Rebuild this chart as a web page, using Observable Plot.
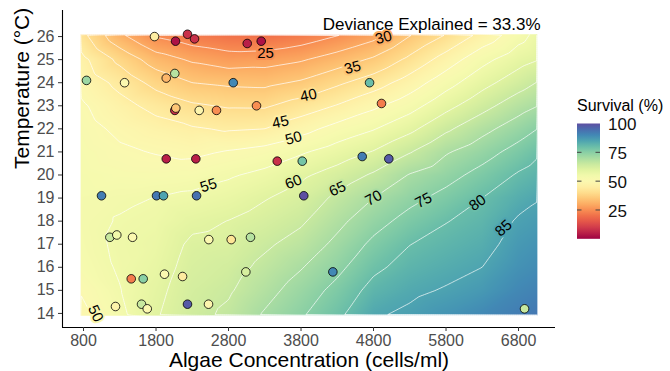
<!DOCTYPE html>
<html>
<head>
<meta charset="utf-8">
<script src="https://cdn.jsdelivr.net/npm/d3@7"></script>
<script src="https://cdn.jsdelivr.net/npm/@observablehq/plot@0.6"></script>
<style>
  body { margin: 0; background: #fff; font-family: "Liberation Sans", Arial, Helvetica, sans-serif; }
  #wrap { position: relative; width: 670px; height: 371px; }
  #wrap svg text { font-family: "Liberation Sans", Arial, Helvetica, sans-serif; }
  g[aria-label$="tick label"] { fill: #4d4d4d; }
  #legend { position: absolute; left: 0; top: 0; pointer-events: none; }
</style>
</head>
<body>
<div id="wrap"></div>
<script>
// ---- fitted survival surface (rows = temperature, columns = algae) ----
const algaeGrid = [760, 1300, 1800, 2300, 2800, 3300, 3800, 4300, 4800, 5300, 5800, 6300, 6800, 7060];
const tempGrid = [26.1, 25, 24, 23, 22, 21, 20, 19, 18, 17, 16, 15, 13.9];
const survivalGrid = [
  [41.7, 30.7, 24.0, 21.5, 20.0, 19.5, 21.5, 24.5, 28.0, 34.5, 40.0, 46.3, 52.8, 56.5],
  [46.7, 38.7, 32.5, 29.3, 27.5, 28.0, 29.5, 32.4, 35.8, 41.2, 47.2, 53.5, 58.1, 59.8],
  [48.6, 43.6, 38.3, 35.0, 34.1, 33.8, 35.7, 39.1, 42.6, 47.3, 53.05, 58.3, 62.8, 65.2],
  [50.8, 46.6, 43.5, 40.75, 39.5, 39.4, 42.2, 45.3, 49.0, 53.0, 58.4, 63.3, 67.9, 69.9],
  [52.0, 48.9, 46.9, 45.5, 44.5, 45.0, 48.2, 51.8, 54.7, 58.75, 64.1, 68.5, 72.6, 75.0],
  [52.8, 50.8, 49.7, 48.9, 50.4, 51.8, 54.4, 57.25, 60.3, 64.7, 69.5, 72.9, 76.9, 79.2],
  [53.3, 52.5, 52.3, 52.7, 54.4, 56.3, 59.1, 62.1, 65.65, 70.3, 73.2, 76.7, 80.55, 82.1],
  [53.6, 54.3, 55.1, 56.1, 57.4, 59.7, 61.9, 66.05, 70.0, 73.6, 76.6, 80.0, 83.3, 84.7],
  [53.6, 55.3, 56.2, 58.8, 60.1, 62.0, 64.3, 68.7, 73.1, 76.8, 79.8, 81.7, 85.6, 86.5],
  [53.3, 55.8, 57.0, 60.9, 61.5, 64.2, 66.9, 71.2, 76.1, 79.9, 81.7, 83.3, 87.0, 88.0],
  [52.5, 55.5, 57.8, 61.8, 63.0, 66.25, 69.7, 73.7, 78.9, 81.9, 83.5, 85.0, 88.3, 89.3],
  [50.3, 54.8, 58.8, 62.6, 64.4, 68.3, 72.2, 76.5, 81.7, 84.0, 85.4, 87.0, 90.0, 91.0],
  [48.5, 53.7, 59.6, 63.4, 66.0, 70.6, 74.5, 79.0, 84.5, 86.0, 88.0, 90.0, 92.0, 93.0]
];
const surfaceAlgaeRange = [760, 7060];
const surfaceTempRange = [13.9, 26.1];
const contourLevels = [25, 30, 35, 40, 45, 50, 55, 60, 65, 70, 75, 80, 85];

// ---- contour labels ----
const labelLevel = [25, 30, 35, 40, 45, 50, 55, 60, 65, 70, 75, 80, 85, 50];
const labelAlgae = [3310, 4938, 4510, 3903, 3517, 3697, 2524, 3697, 4303, 4800, 5490, 6234, 6593, 966];
const labelTemp  = [25.3, 25.96, 24.66, 23.45, 22.3, 21.6, 19.55, 19.7, 19.4, 19.0, 18.9, 18.8, 17.7, 14.0];
const labelAngle = [0, -15, -15, -12, -12, -15, -18, -22, -25, -28, -28, -35, -42, 65];

// ---- observed points ----
const obsAlgae = [1779, 2069, 2234, 2331, 3058, 3251, 841, 1366, 1941, 2059, 2865, 2059, 2073, 2396, 2634, 3186,
  1941, 2349, 3472, 3817, 4745, 4910, 4644, 5011, 1048, 1807, 1903, 2359, 1163, 1259, 1476, 2528, 2837, 3103,
  1458, 1623, 1917, 2166, 3039, 1241, 1600, 1679, 2234, 2524, 3838, 4239, 6883];
const obsTemp = [26.0, 25.8, 26.1, 25.9, 25.7, 25.8, 24.1, 24.0, 24.2, 24.4, 24.0, 22.8, 22.9, 22.8, 22.8, 23.0,
  20.7, 20.7, 20.6, 20.6, 24.0, 23.1, 20.8, 20.7, 19.1, 19.1, 19.1, 19.1, 17.3, 17.4, 17.3, 17.2, 17.2, 17.3,
  15.5, 15.5, 15.7, 15.6, 15.8, 14.3, 14.4, 14.2, 14.4, 14.4, 19.1, 15.8, 14.2];
const obsSurvival = [45, 3, 8, 8, 5, 3, 72, 50, 32, 68, 90, 8, 35, 48, 25, 25,
  5, 5, 8, 78, 80, 22, 92, 98, 92, 93, 85, 94, 65, 55, 50, 50, 42, 68,
  22, 75, 50, 44, 62, 47, 65, 50, 98, 48, 100, 90, 65];

// ---- axes / text ----
const xTicks = [800, 1800, 2800, 3800, 4800, 5800, 6800];
const yTicks = [14, 15, 16, 17, 18, 19, 20, 21, 22, 23, 24, 25, 26];
const xDomain = [510, 7310];
const yDomain = [13.39, 27.13];
const xTitle = "Algae Concentration (cells/ml)";
const yTitle = "Temperature (°C)";
const titleText = "Deviance Explained = 33.3%";
const legendTitle = "Survival (%)";
const legendTicks = [25, 50, 75, 100];

// ---- build tables ----
const surface = [];
tempGrid.forEach((t, i) => algaeGrid.forEach((a, j) => surface.push({algae: a, temp: t, survival: survivalGrid[i][j]})));
const obs = obsAlgae.map((a, i) => ({algae: a, temp: obsTemp[i], survival: obsSurvival[i]}));
const labels = labelLevel.map((v, i) => ({algae: labelAlgae[i], temp: labelTemp[i], level: v, angle: labelAngle[i]}));

const font = '"Liberation Sans", Arial, Helvetica, sans-serif';
const pad = 500, padT = 0.6;

const chart = Plot.plot({
  width: 670, height: 371,
  marginLeft: 62, marginRight: 115, marginTop: 10, marginBottom: 44,
  style: {fontFamily: font, background: "white", overflow: "visible"},
  x: {domain: xDomain},
  y: {domain: yDomain},
  color: {type: "linear", domain: [0, 100], scheme: "spectral"},
  marks: [
    Plot.raster(surface, {
      x: "algae", y: "temp", fill: "survival", interpolate: "barycentric",
      x1: surfaceAlgaeRange[0], x2: surfaceAlgaeRange[1], y1: surfaceTempRange[0], y2: surfaceTempRange[1]
    }),
    Plot.contour(surface, {
      x: "algae", y: "temp", value: "survival", interpolate: "barycentric",
      x1: surfaceAlgaeRange[0] - pad, x2: surfaceAlgaeRange[1] + pad,
      y1: surfaceTempRange[0] - padT, y2: surfaceTempRange[1] + padT,
      thresholds: contourLevels, fill: "none", stroke: "white", strokeOpacity: 0.7, strokeWidth: 1
    }),
    Plot.text(labels, {
      x: "algae", y: "temp", text: d => String(d.level), rotate: "angle",
      fontSize: 15, fill: "black", stroke: "level", strokeWidth: 4
    }),
    Plot.dot(obs, {x: "algae", y: "temp", fill: "survival", stroke: "black", strokeWidth: 0.8, r: 4.3}),
    Plot.ruleX([xDomain[0]], {stroke: "black", strokeWidth: 1.1}),
    Plot.ruleY([yDomain[0]], {stroke: "black", strokeWidth: 1.1}),
    Plot.axisX({ticks: xTicks, tickFormat: d => String(d), tickSize: 4, tickPadding: 3, fontSize: 16, label: null, stroke: "#333"}),
    Plot.axisY({ticks: yTicks, tickFormat: d => String(d), tickSize: 4, tickPadding: 4, fontSize: 16, label: null, stroke: "#333"}),
    Plot.text([xTitle], {text: d => d, frameAnchor: "bottom", dy: 33, fontSize: 21, lineAnchor: "middle", fill: "black"}),
    Plot.text([yTitle], {text: d => d, frameAnchor: "left", dx: -40, rotate: -90, fontSize: 21, lineAnchor: "middle", fill: "black"}),
    Plot.text([titleText], {text: d => d, frameAnchor: "top-right", dx: -15, dy: 14, textAnchor: "end", lineAnchor: "middle", fontSize: 17, fill: "black"})
  ]
});

document.getElementById("wrap").appendChild(chart);

// clip contour lines to the surface rectangle
const xS = chart.scale("x"), yS = chart.scale("y");
const rx0 = xS.apply(surfaceAlgaeRange[0]), rx1 = xS.apply(surfaceAlgaeRange[1]);
const ry0 = yS.apply(surfaceTempRange[1]), ry1 = yS.apply(surfaceTempRange[0]);
const sel = d3.select(chart);
const defs = sel.insert("defs", ":first-child");
defs.append("clipPath").attr("id", "surfclip").append("rect")
  .attr("x", rx0).attr("y", ry0).attr("width", rx1 - rx0).attr("height", ry1 - ry0);
sel.selectAll('g[aria-label="contour"]').attr("clip-path", "url(#surfclip)");

// ---- vertical colour bar legend ----
const cs = Plot.scale({color: chart.scale("color")});
const bar = {x: 577, w: 23, top: 123.5, bottom: 238.8};
const ly = d3.scaleLinear([0, 100], [bar.bottom, bar.top]);
const lg = d3.create("svg").attr("id", "legend").attr("width", 670).attr("height", 371);
const grad = lg.append("defs").append("linearGradient").attr("id", "lgrad")
  .attr("x1", 0).attr("y1", 1).attr("x2", 0).attr("y2", 0);
d3.range(0, 101, 5).forEach(v => grad.append("stop").attr("offset", v / 100).attr("stop-color", cs.apply(v)));
lg.append("rect").attr("x", bar.x).attr("y", bar.top).attr("width", bar.w).attr("height", bar.bottom - bar.top)
  .attr("fill", "url(#lgrad)");
legendTicks.filter(v => v < 100).forEach(v => {
  lg.append("line").attr("x1", bar.x).attr("x2", bar.x + 4.5).attr("y1", ly(v)).attr("y2", ly(v)).attr("stroke", "#444");
  lg.append("line").attr("x1", bar.x + bar.w - 4.5).attr("x2", bar.x + bar.w).attr("y1", ly(v)).attr("y2", ly(v)).attr("stroke", "#444");
});
legendTicks.forEach(v => {
  lg.append("text").attr("x", 608).attr("y", ly(v) + 1).attr("dy", "0.35em").attr("font-size", 17)
    .attr("font-family", font).attr("fill", "#111").text(v);
});
lg.append("text").attr("x", 577).attr("y", 111).attr("font-size", 16).attr("font-family", font)
  .attr("fill", "black").text(legendTitle);
document.getElementById("wrap").appendChild(lg.node());
</script>
</body>
</html>
